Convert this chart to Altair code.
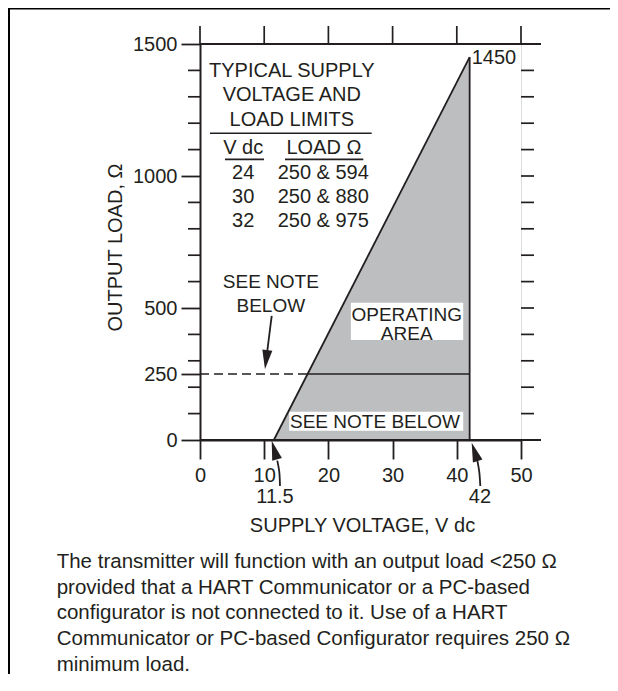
import altair as alt
import pandas as pd

# ---------------- data ----------------
v_min = 11.5          # V dc at zero load
v_max = 42.0          # maximum supply voltage
load_max = 1450       # load at maximum voltage
load_hart = 250       # minimum load for HART communication

table_vdc = ["24", "30", "32"]
table_load = ["250 & 594", "250 & 880", "250 & 975"]

x_ticks = [0, 10, 20, 30, 40, 50]
y_label_ticks = [0, 250, 500, 1000, 1500]
y_minor_ticks = [100, 200, 300, 400, 600, 700, 800, 900, 1100, 1200, 1300, 1400]
y_right_ticks = [100, 200, 300, 400, 500, 600, 700, 800, 900, 1000, 1100, 1200, 1300, 1400]
y_edges = [0, 1500]

note_lines = [
    "The transmitter will function with an output load <250 \u03a9",
    "provided that a HART Communicator or a PC-based",
    "configurator is not connected to it. Use of a HART",
    "Communicator or PC-based Configurator requires 250 \u03a9",
    "minimum load.",
]

# ---------------- styling ----------------
W, H = 321, 396
INK = "#231f20"
GRAY = "#bcbec0"
FONT = "Liberation Sans"
FS = 20

xs = alt.Scale(domain=[0, 50], nice=False, zero=False)
ys = alt.Scale(domain=[0, 1500], nice=False, zero=False)

xaxis = alt.Axis(
    values=x_ticks, format="d", tickSize=19, tickWidth=1.8, tickColor=INK,
    domainColor=INK, domainWidth=2, grid=False, zindex=1,
    labelFont=FONT, labelFontSize=FS, labelColor=INK, labelPadding=22,
    labelBaseline="alphabetic", labelFlush=False, labelOverlap=False,
    title="SUPPLY VOLTAGE, V dc", titleFont=FONT, titleFontSize=FS,
    titleFontWeight="normal", titleColor=INK, titleX=162, titleY=91,
    titleBaseline="alphabetic", titleAlign="center",
)
yaxis = alt.Axis(
    values=y_label_ticks, format="d", tickSize=19, tickWidth=1.8, tickColor=INK,
    domainColor=INK, domainWidth=2, grid=False, zindex=1,
    labelFont=FONT, labelFontSize=FS, labelColor=INK, labelPadding=4,
    labelBaseline="middle", labelFlush=False, labelOverlap=False,
    title="OUTPUT LOAD, \u03a9", titleFont=FONT, titleFontSize=FS,
    titleFontWeight="normal", titleColor=INK, titleX=-79, titleY=203,
    titleAngle=270, titleBaseline="alphabetic", titleAlign="center",
)


def X(f="x"):
    return alt.X(f"{f}:Q", scale=xs, axis=xaxis)


def Y(f="y"):
    return alt.Y(f"{f}:Q", scale=ys, axis=yaxis)


# operating region
region = pd.DataFrame({"x": [v_min, v_max], "y": [0, load_max], "y2": [0, 0]})
area = alt.Chart(region).mark_area(color=GRAY, opacity=1).encode(x=X(), y=Y(), y2="y2:Q")
edge = alt.Chart(region).mark_line(color=INK, strokeWidth=1.8).encode(x=X(), y=Y())
vert = alt.Chart(pd.DataFrame({"x": [v_max], "y": [0], "y2": [load_max]})).mark_rule(
    color=INK, strokeWidth=1.8).encode(x=X(), y=Y(), y2="y2:Q")

x_cross = v_min + load_hart * (v_max - v_min) / load_max
hart_solid = alt.Chart(pd.DataFrame({"x": [x_cross], "x2": [v_max], "y": [load_hart]})).mark_rule(
    color=INK, strokeWidth=1.3).encode(x=X(), x2="x2:Q", y=Y())
hart_dash = alt.Chart(pd.DataFrame({"x": [0], "x2": [x_cross], "y": [load_hart]})).mark_rule(
    color=INK, strokeWidth=1.3, strokeDash=[9, 5]).encode(x=X(), x2="x2:Q", y=Y())

# white boxes behind labels in the region
boxes = pd.DataFrame({"x": [23.5, 13.9], "x2": [41.0, 41.0], "y": [520, 107], "y2": [379, 35]})
box_layer = alt.Chart(boxes).mark_rect(color="white").encode(x=X(), x2="x2:Q", y=Y(), y2="y2:Q")


# text annotations inside plot
def label(df, **kw):
    base = dict(font=FONT, fontSize=FS, color=INK, baseline="alphabetic", lineBreak="\n")
    base.update(kw)
    return alt.Chart(pd.DataFrame(df)).mark_text(**base).encode(x=X(), y=Y(), text="t:N")


t1450 = label({"x": [v_max], "y": [load_max], "t": [str(load_max)]}, align="left", dx=2, dy=7)
t_title = label({"x": [14.3], "y": [1376], "t": ["TYPICAL SUPPLY\nVOLTAGE AND\nLOAD LIMITS"]},
                align="center", lineHeight=24.5)
t_head = label({"x": [6.73, 19.3], "y": [1083, 1083], "t": ["V dc", "LOAD \u03a9"]}, align="center")
row_step = 24 / (H / 1500)
t_vdc = label({"x": [6.73] * 3, "y": [987 - i * row_step for i in range(3)], "t": table_vdc}, align="center")
t_load = label({"x": [19.2] * 3, "y": [987 - i * row_step for i in range(3)], "t": table_load}, align="center")
t_note1 = label({"x": [11.03], "y": [575], "t": ["SEE NOTE\nBELOW"]}, align="center",
                lineHeight=23.4, fontSize=19)
t_oper = label({"x": [32.2], "y": [452], "t": ["OPERATING\nAREA"]}, align="center",
               lineHeight=19, fontSize=19)
t_note2 = label({"x": [27.26], "y": [44], "t": ["SEE NOTE BELOW"]}, align="center", fontSize=19)
t_volts = label({"x": [11.68, 43.61], "y": [-238, -238], "t": ["11.5", "42"]}, align="center")

table_rules = pd.DataFrame({"x": [1.56, 3.89, 13.24], "x2": [26.74, 9.97, 25.44], "y": [1162, 1063, 1063]})
t_rules = alt.Chart(table_rules).mark_rule(color=INK, strokeWidth=1.6).encode(x=X(), x2="x2:Q", y=Y())

# arrows
shafts = pd.DataFrame({
    "a": ["n", "n", "l", "l", "l", "r", "r", "r"],
    "o": [0, 1, 0, 1, 2, 0, 1, 2],
    "x": [11.17, 10.48, 12.04, 12.35, 12.46, 43.19, 43.50, 43.66],
    "y": [470, 338, -78, -121, -174, -76, -121, -174],
})
shaft_layer = alt.Chart(shafts).mark_line(color=INK, strokeWidth=1.8, interpolate="cardinal").encode(
    x=X(), y=Y(), detail="a:N", order="o:Q")
heads = pd.DataFrame({"x": [10.12, 11.17, 42.32], "y": [268, -3, -10], "ang": [187, 344, 342]})
HEAD = "M0,0L0.26,1L-0.26,1Z"
head_layer = alt.Chart(heads).mark_point(shape=HEAD, size=1500, filled=True, opacity=1,
                                        color=INK, strokeWidth=0).encode(
    x=X(), y=Y(), angle=alt.Angle("ang:Q", scale=None))

# frame ticks
minor = alt.Chart(pd.DataFrame({"y": y_minor_ticks})).mark_rule(color=INK, strokeWidth=1.7).encode(
    y=Y(), x=alt.value(-12), x2=alt.value(0))
right = alt.Chart(pd.DataFrame({"y": y_right_ticks})).mark_rule(color=INK, strokeWidth=1.7).encode(
    y=Y(), x=alt.value(W), x2=alt.value(W + 13))
edges = alt.Chart(pd.DataFrame({"y": y_edges})).mark_rule(color=INK, strokeWidth=2).encode(
    y=Y(), x=alt.value(0), x2=alt.value(W + 20))
top = alt.Chart(pd.DataFrame({"x": x_ticks})).mark_rule(color=INK, strokeWidth=1.7).encode(
    x=X(), y=alt.value(-18), y2=alt.value(0))

# outer frame and note
frame_left = alt.Chart(pd.DataFrame({"k": [0]})).mark_rule(color="black", strokeWidth=2).encode(
    x=alt.value(-191), y=alt.value(-36), y2=alt.value(640))
frame_top = alt.Chart(pd.DataFrame({"k": [0]})).mark_rule(color="black", strokeWidth=2).encode(
    y=alt.value(-35.5), x=alt.value(-192), x2=alt.value(420))
note = alt.Chart(pd.DataFrame({"t": ["\n".join(note_lines)]})).mark_text(
    font=FONT, fontSize=20.5, color=INK, align="left", baseline="alphabetic",
    lineBreak="\n", lineHeight=25.7).encode(x=alt.value(-143.3), y=alt.value(524), text="t:N")

chart = alt.layer(
    area, box_layer, edge, vert, hart_solid, hart_dash,
    t1450, t_title, t_head, t_vdc, t_load, t_note1, t_oper, t_note2, t_volts, t_rules,
    shaft_layer, head_layer, minor, right, edges, top,
    frame_left, frame_top, note,
).properties(
    width=W, height=H,
    autosize=alt.AutoSizeParams(type="none"),
    padding={"left": 192, "top": 36, "right": 89, "bottom": 234},
).configure_view(stroke=INK, strokeWidth=2).configure(background="white")

chart.save("out.html", embed_options={"renderer": "svg", "actions": False})
